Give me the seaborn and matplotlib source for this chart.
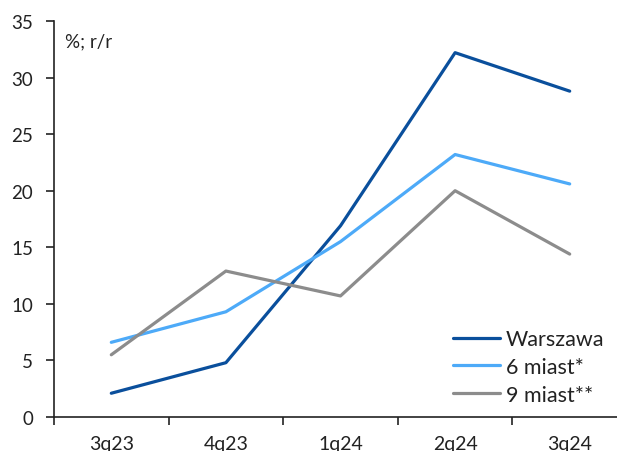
import numpy as np
import pandas as pd
import seaborn as sns
import matplotlib
matplotlib.use("Agg")
import matplotlib.pyplot as plt
from matplotlib.ticker import FixedLocator

quarters = ["3q23", "4q23", "1q24", "2q24", "3q24"]
warszawa = [2.1, 4.8, 16.9, 32.2, 28.8]
miast6 = [6.6, 9.3, 15.5, 23.2, 20.6]
miast9 = [5.5, 12.9, 10.7, 20.0, 14.4]
series_names = ["Warszawa", "6 miast*", "9 miast**"]
colors = ["#0A4F9C", "#4DAAF8", "#8C8C8C"]

df = pd.DataFrame({
    "kwartal": quarters * 3,
    "x": list(range(len(quarters))) * 3,
    "wartosc": warszawa + miast6 + miast9,
    "seria": [series_names[0]] * 5 + [series_names[1]] * 5 + [series_names[2]] * 5,
})

sns.set_style("white")
plt.rcParams["font.family"] = ["Lato", "DejaVu Sans"]

fig = plt.figure(figsize=(6.17, 4.52), dpi=100)
ax = fig.add_axes([54 / 617, (452 - 418) / 452, (627 - 54) / 617, (418 - 22) / 452])

sns.lineplot(data=df, x="x", y="wartosc", hue="seria", palette=colors,
             hue_order=series_names, linewidth=2.3, ax=ax, legend=True)

ax.set_xlim(-0.5, len(quarters) - 0.5)
ax.set_ylim(0, 35)
ax.set_yticks(range(0, 36, 5))
ax.set_xticks(range(len(quarters)))
ax.set_xticklabels(quarters)
ax.xaxis.set_minor_locator(FixedLocator(np.arange(-0.5, len(quarters), 1.0)))
ax.tick_params(axis="x", which="major", length=0, labelsize=14, pad=13, colors="#222222")
ax.tick_params(axis="x", which="minor", length=6, width=1.2, color="#222222", direction="out", bottom=True)
ax.tick_params(axis="y", length=6, width=1.2, color="#222222", labelsize=13.5, pad=9, left=True, labelcolor="#222222")
ax.set_xlabel("")
ax.set_ylabel("")

for s in ["top", "right"]:
    ax.spines[s].set_visible(False)
for s in ["left", "bottom"]:
    ax.spines[s].set_color("#222222")
    ax.spines[s].set_linewidth(1.2)

ax.text(65 / 617, 1 - 42 / 452, "%; r/r", transform=fig.transFigure, fontsize=13.5,
        ha="left", va="center", color="#222222")

leg = ax.legend(title=None, frameon=False, fontsize=15.5, loc="center left",
                bbox_to_anchor=(453 / 617, 1 - 368 / 452), bbox_transform=fig.transFigure,
                handlelength=2.2, handletextpad=0.25, labelspacing=0.35, borderaxespad=0,
                borderpad=0)
for t in leg.get_texts():
    t.set_color("#222222")

fig.savefig("out.png", dpi=100)
